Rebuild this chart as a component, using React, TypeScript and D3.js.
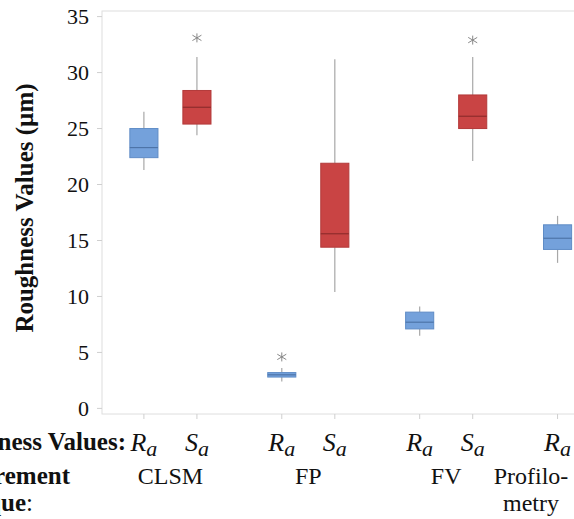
import React from "react";
import * as d3 from "d3";

// one entry per box, in drawing order
const boxGroup = [0, 0, 1, 1, 2, 2, 3];
const boxParam = ["Ra", "Sa", "Ra", "Sa", "Ra", "Sa", "Ra"];
const whiskerLow = [21.3, 24.4, 2.4, 10.4, 6.5, 22.1, 13.0];
const q1 = [22.4, 25.4, 2.8, 14.4, 7.1, 25.0, 14.2];
const median = [23.3, 26.9, 3.0, 15.6, 7.7, 26.1, 15.2];
const q3 = [25.0, 28.4, 3.2, 21.9, 8.6, 28.0, 16.4];
const whiskerHigh = [26.5, 31.4, 3.6, 31.2, 9.1, 31.4, 17.2];
const outliers = [[], [33.1], [4.6], [], [], [32.9], []];

const groupLabels = [["CLSM"], ["FP"], ["FV"], ["Profilo-", "metry"]];
const yTicks = [0, 5, 10, 15, 20, 25, 30, 35];

const W = 574;
const H = 519;
const FONT = '"Liberation Serif", "Times New Roman", "DejaVu Serif", serif';

const colors: Record<string, { fill: string; stroke: string; med: string }> = {
  Ra: { fill: "#74a1db", stroke: "#5f8cc6", med: "#4d74a8" },
  Sa: { fill: "#c94444", stroke: "#b33a3a", med: "#8f2c2c" },
};

const App = () => {
  const groupGap = 2.6;
  const slot = (i: number) => boxGroup[i] * groupGap + (boxParam[i] === "Sa" ? 1 : 0);

  const x = d3.scaleLinear().domain([-0.79, 8.11]).range([102, W]);
  const y = d3.scaleLinear().domain([-0.5, 35.5]).range([414, 11]);
  const boxW = x(0.53) - x(0);
  const [plotLeft, plotRight] = x.range();
  const [plotBottom, plotTop] = y.range();

  const star = (s: number) =>
    `M${-s},${-s * 0.6}L${s},${s * 0.6}M${-s},${s * 0.6}L${s},${-s * 0.6}M0,${-s}L0,${s}`;

  const groups = d3.range(groupLabels.length).map((g) => {
    const idx = boxGroup.map((v, i) => (v === g ? i : -1)).filter((i) => i >= 0);
    const cx = d3.mean(idx, (i) => x(slot(i))) as number;
    return { g, cx: Math.min(cx, W - 43) };
  });

  const ts = { fontFamily: FONT };

  return (
    <svg width={W} height={H} style={{ position: "absolute", left: 0, top: 0, fontFamily: FONT }}>
      <rect x={0} y={0} width={W} height={H} fill="#fff" />
      {/* frame */}
      <rect
        x={plotLeft}
        y={plotTop}
        width={plotRight - plotLeft + 10}
        height={plotBottom - plotTop}
        fill="none"
        stroke="#dedede"
        strokeWidth={1}
      />
      {/* y axis */}
      {yTicks.map((t) => (
        <g key={t} transform={`translate(0,${y(t)})`}>
          <line x1={plotLeft - 5} x2={plotLeft} stroke="#cfcfcf" />
          <text x={89} dy="0.35em" textAnchor="end" fontSize={22} fill="#111" style={ts}>
            {t}
          </text>
        </g>
      ))}
      <text
        transform={`translate(33,${208}) rotate(-90)`}
        textAnchor="middle"
        fontSize={25}
        fontWeight="bold"
        fill="#111"
        style={ts}
      >
        Roughness Values (µm)
      </text>
      {/* x ticks and labels */}
      {boxParam.map((p, i) => (
        <g key={i} transform={`translate(${x(slot(i))},0)`}>
          <line y1={plotBottom} y2={plotBottom + 5} stroke="#cfcfcf" />
          <text y={451} textAnchor="middle" fontSize={26} fontStyle="italic" fill="#111" style={ts}>
            {p[0]}
            <tspan fontSize={22} dy={5}>
              {p[1]}
            </tspan>
          </text>
        </g>
      ))}
      {groups.map(({ g, cx }) =>
        groupLabels[g].map((line, k) => (
          <text key={`${g}-${k}`} x={cx} y={484 + k * 27} textAnchor="middle" fontSize={24} fill="#111" style={ts}>
            {line}
          </text>
        ))
      )}
      <text x={126} y={450} textAnchor="end" fontSize={25} fontWeight="bold" fill="#111" style={ts}>
        Roughness Values:
      </text>
      <text x={70} y={484} textAnchor="end" fontSize={25} fontWeight="bold" fill="#111" style={ts}>
        Measurement
      </text>
      <text x={33} y={511} textAnchor="end" fontSize={25} fill="#111" style={ts}>
        <tspan fontWeight="bold">Technique</tspan>:
      </text>
      {/* boxes */}
      {boxParam.map((p, i) => {
        const cx = x(slot(i));
        const c = colors[p];
        return (
          <g key={i}>
            <line x1={cx} x2={cx} y1={y(whiskerHigh[i])} y2={y(q3[i])} stroke="#a8a8a8" strokeWidth={1.2} />
            <line x1={cx} x2={cx} y1={y(q1[i])} y2={y(whiskerLow[i])} stroke="#a8a8a8" strokeWidth={1.2} />
            <rect
              x={cx - boxW / 2}
              y={y(q3[i])}
              width={boxW}
              height={y(q1[i]) - y(q3[i])}
              fill={c.fill}
              stroke={c.stroke}
              strokeWidth={1}
            />
            <line
              x1={cx - boxW / 2}
              x2={cx + boxW / 2}
              y1={y(median[i])}
              y2={y(median[i])}
              stroke={c.med}
              strokeWidth={1.2}
            />
            {outliers[i].map((o, k) => (
              <path
                key={k}
                d={star(4.5)}
                transform={`translate(${cx},${y(o)})`}
                stroke="#888"
                strokeWidth={1}
                fill="none"
              />
            ))}
          </g>
        );
      })}
    </svg>
  );
};

export default App;
